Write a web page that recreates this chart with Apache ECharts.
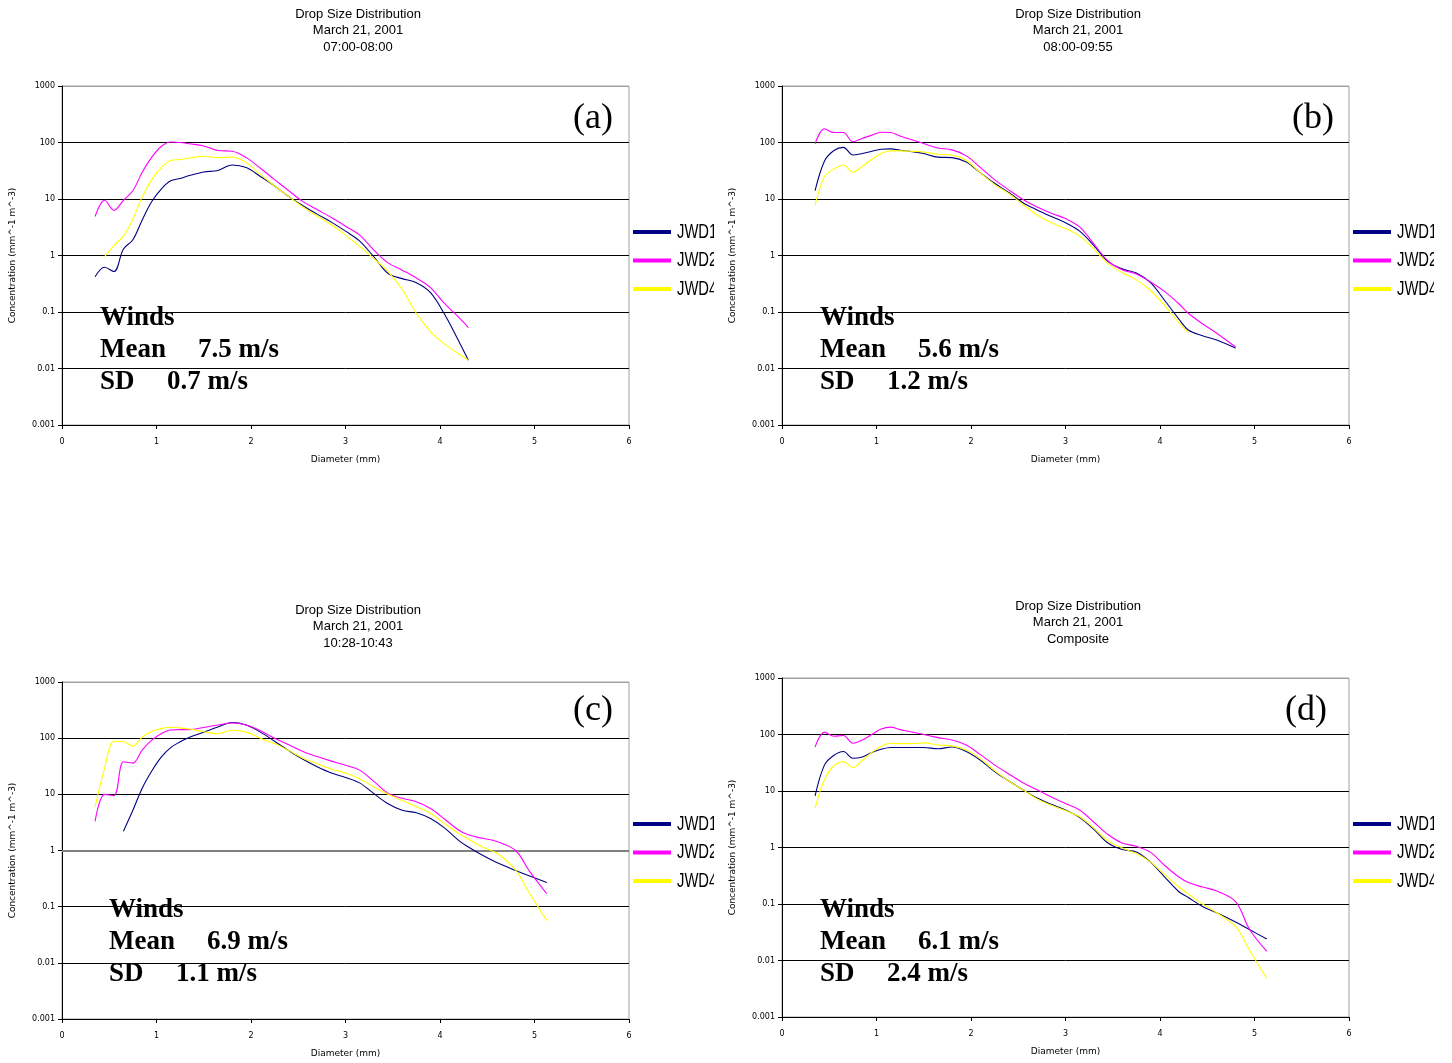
<!DOCTYPE html>
<html>
<head>
<meta charset="utf-8">
<title>Drop Size Distribution - March 21, 2001</title>
<script src="https://cdn.jsdelivr.net/npm/echarts@6/dist/echarts.min.js"></script>
<style>
  html, body { margin: 0; padding: 0; background: #fff; }
  body { width: 1452px; height: 1063px; position: relative; overflow: hidden; }
  .panel { position: absolute; overflow: hidden; }
</style>
</head>
<body>
<div id="panelA" class="panel" style="left:0px;top:0px;width:714px;height:520px"></div>
<div id="panelB" class="panel" style="left:720px;top:0px;width:714px;height:520px"></div>
<div id="panelC" class="panel" style="left:0px;top:596px;width:714px;height:467px"></div>
<div id="panelD" class="panel" style="left:720px;top:592px;width:714px;height:471px"></div>
<script>
// Drop diameter bins (mm) shared by every disdrometer series
const diameters = [0.35, 0.45, 0.55, 0.65, 0.75, 0.85, 0.95, 1.05, 1.15, 1.25, 1.35, 1.5, 1.65, 1.8, 1.95,
  2.1, 2.25, 2.4, 2.55, 2.7, 2.85, 3.0, 3.15, 3.3, 3.45, 3.6, 3.75, 3.9, 4.05, 4.2, 4.3, 4.45, 4.6, 4.8, 4.95, 5.13];

const seriesNames = ['JWD1', 'JWD2', 'JWD4'];
const yTickLabels = ['0.001', '0.01', '0.1', '1', '10', '100', '1000'];
const xTickLabels = ['0', '1', '2', '3', '4', '5', '6'];

// Concentration (mm^-1 m^-3), 07:00-08:00
const a_jwd1 = [0.42, 0.62, 0.52, 1.3, 1.9, 4.3, 9, 15, 21, 23, 26, 30, 32, 40, 36, 25, 17, 11, 7.6, 5.4, 3.9, 2.7, 1.8, 0.95, 0.48, 0.39, 0.33, 0.22, 0.09, 0.03, 0.014, null, null, null, null, null];
const a_jwd2 = [4.9, 9.5, 6.3, 9.5, 14, 30, 55, 85, 102, 100, 95, 87, 72, 70, 54, 35, 22, 14, 9, 6.5, 4.7, 3.3, 2.3, 1.25, 0.74, 0.55, 0.40, 0.27, 0.14, 0.08, 0.053, null, null, null, null, null];
const a_jwd4 = [null, 0.95, 1.5, 2.2, 4.4, 11, 22, 36, 48, 50, 53, 57, 54, 55, 44, 27, 17, 11, 7.2, 5.0, 3.5, 2.3, 1.45, 0.88, 0.52, 0.25, 0.095, 0.045, 0.027, 0.018, 0.014, null, null, null, null, null];

// 08:00-09:55
const b_jwd1 = [14, 47, 72, 82, 60, 64, 70, 76, 77, 73, 70, 64, 55, 54, 45, 29, 19, 13, 8.6, 6.4, 4.9, 3.8, 2.7, 1.5, 0.78, 0.58, 0.49, 0.33, 0.16, 0.075, 0.048, 0.038, 0.032, 0.023, null, null];
const b_jwd2 = [95, 175, 150, 150, 103, 118, 135, 152, 150, 130, 115, 96, 80, 74, 58, 36, 22, 14.5, 9.8, 7.2, 5.6, 4.5, 3.2, 1.6, 0.8, 0.56, 0.47, 0.34, 0.23, 0.14, 0.095, 0.062, 0.042, 0.024, null, null];
const b_jwd4 = [7.8, 25, 34, 40, 30, 38, 50, 64, 71, 71, 70, 68, 62, 60, 48, 29, 18, 12.5, 8.0, 5.2, 3.8, 3.0, 2.2, 1.3, 0.72, 0.50, 0.37, 0.24, 0.13, 0.065, 0.043, null, null, null, null, null];

// 10:28-10:43
const c_jwd1 = [null, null, null, 2.2, 5.2, 13, 26, 46, 68, 86, 104, 128, 158, 190, 172, 128, 88, 60, 42, 31, 24, 20, 16, 10.3, 6.8, 5.2, 4.7, 3.7, 2.5, 1.5, 1.15, 0.82, 0.61, 0.44, 0.35, 0.27];
const c_jwd2 = [3.3, 10, 9.5, 38, 36, 62, 92, 120, 140, 142, 142, 155, 172, 186, 172, 135, 100, 76, 58, 47, 39, 33, 27, 17, 10.5, 8.5, 7.4, 5.6, 3.6, 2.3, 1.9, 1.65, 1.45, 1.0, 0.42, 0.17];
const c_jwd4 = [6, 29, 88, 87, 72, 105, 132, 148, 156, 152, 146, 130, 120, 138, 128, 100, 80, 60, 44, 35, 28, 24, 19, 13.5, 10, 7.8, 6, 4.6, 3, 2.0, 1.6, 1.15, 0.9, 0.45, 0.17, 0.057];

// Composite
const d_jwd1 = [8.2, 29, 43, 50, 38, 40, 48, 55, 59, 59, 59, 59, 56, 60, 50, 35, 22, 15, 10.5, 7.5, 5.8, 4.6, 3.4, 2.1, 1.2, 0.92, 0.83, 0.55, 0.3, 0.165, 0.13, 0.09, 0.07, 0.048, 0.035, 0.024];
const d_jwd2 = [60, 110, 93, 96, 70, 80, 100, 125, 135, 122, 113, 100, 88, 80, 65, 44, 29, 20, 14, 10.5, 7.8, 6.0, 4.6, 2.8, 1.7, 1.2, 1.05, 0.82, 0.48, 0.3, 0.24, 0.2, 0.17, 0.11, 0.035, 0.0145];
const d_jwd4 = [5, 16, 28, 33, 26, 35, 48, 62, 70, 69, 69, 71, 65, 63, 53, 37, 23, 15, 10.5, 7.2, 5.6, 4.5, 3.5, 2.2, 1.3, 0.98, 0.78, 0.55, 0.33, 0.2, 0.15, 0.1, 0.07, 0.04, 0.015, 0.0048];

const seriesColors = ['#000080', '#ff00ff', '#ffff00'];

const panels = [
  { el: 'panelA', period: '07:00-08:00', tag: '(a)', tagX: 593, tagY: 119, data: [a_jwd1, a_jwd2, a_jwd4],
    mean: '7.5 m/s', sd: '0.7 m/s', textX: 100, textY: 318, legendY: 232, oneLineGrey: false },
  { el: 'panelB', period: '08:00-09:55', tag: '(b)', tagX: 593, tagY: 119, data: [b_jwd1, b_jwd2, b_jwd4],
    mean: '5.6 m/s', sd: '1.2 m/s', textX: 100, textY: 318, legendY: 232, oneLineGrey: false },
  { el: 'panelC', period: '10:28-10:43', tag: '(c)', tagX: 593, tagY: 115, data: [c_jwd1, c_jwd2, c_jwd4],
    mean: '6.9 m/s', sd: '1.1 m/s', textX: 109, textY: 314, legendY: 228, oneLineGrey: true },
  { el: 'panelD', period: 'Composite', tag: '(d)', tagX: 586, tagY: 119, data: [d_jwd1, d_jwd2, d_jwd4],
    mean: '6.1 m/s', sd: '2.4 m/s', textX: 100, textY: 318, legendY: 232, oneLineGrey: false }
];

const sansFont = "'DejaVu Sans', Verdana, sans-serif";
const titleFont = "'Liberation Sans', Arial, sans-serif";
const serifFont = "'Liberation Serif', 'Times New Roman', serif";

function pairs(values) {
  const out = [];
  values.forEach((v, i) => { if (v !== null) out.push([diameters[i], v]); });
  return out;
}

// Legend keys: a short thick bar in the series colour followed by a condensed label
function legendGraphics(p) {
  const items = [];
  seriesNames.forEach((name, k) => {
    const cy = p.legendY + 28.5 * k;
    items.push({ type: 'rect', x: 633, y: cy - 2, z: 10,
                 shape: { width: 38, height: 4 }, style: { fill: seriesColors[k] } });
    items.push({ type: 'text', x: 677, y: cy, scaleX: 0.74, z: 10,
                 style: { text: name, fontFamily: titleFont, fontSize: 20, fill: '#000',
                          verticalAlign: 'middle', align: 'left' } });
  });
  return items;
}

function buildPanel(p) {
  const chart = echarts.init(document.getElementById(p.el), null, { renderer: 'canvas' });
  const splitColors = ['#000', '#000', '#000', p.oneLineGrey ? '#808080' : '#000', '#000', '#000', '#a0a0a0'];
  const series = seriesNames.map((name, k) => ({
    name: name,
    type: 'line',
    data: pairs(p.data[k]),
    smooth: 0.35,
    showSymbol: false,
    symbol: 'none',
    lineStyle: { color: seriesColors[k], width: 1.1 },
    itemStyle: { color: seriesColors[k] },
    animation: false,
    z: 3 + k
  }));
  if (p.oneLineGrey) {
    series[0].markLine = {
      silent: true, symbol: 'none', label: { show: false },
      lineStyle: { color: '#808080', width: 2, type: 'solid' },
      data: [{ yAxis: 1 }], z: 2
    };
  }
  const statStyle = { fontFamily: serifFont, fontWeight: 'bold', fontSize: 27, fill: '#000',
                      verticalAlign: 'middle', align: 'left' };
  chart.setOption({
    animation: false,
    backgroundColor: '#fff',
    title: {
      text: 'Drop Size Distribution\nMarch 21, 2001\n' + p.period,
      left: 353, top: 1, textAlign: 'center',
      textStyle: { fontFamily: titleFont, fontSize: 13, fontWeight: 'normal', color: '#000', lineHeight: 16.5 }
    },
    grid: {
      left: 62, top: 86, width: 567, height: 339,
      show: true, borderColor: '#a0a0a0', borderWidth: 1, backgroundColor: '#fff'
    },
    xAxis: {
      type: 'value', min: 0, max: 6, interval: 1,
      name: 'Diameter (mm)', nameLocation: 'middle', nameGap: 30,
      nameTextStyle: { fontFamily: sansFont, fontSize: 9, color: '#000' },
      axisLine: { show: true, lineStyle: { color: '#000', width: 1 } },
      axisTick: { show: true, length: 4, lineStyle: { color: '#000' } },
      axisLabel: { fontFamily: sansFont, fontSize: 8, color: '#000', margin: 13,
                   formatter: v => xTickLabels[Math.round(v)] },
      splitLine: { show: false }
    },
    yAxis: {
      type: 'log', logBase: 10, min: 0.001, max: 1000, splitNumber: 6,
      name: 'Concentration (mm^-1 m^-3)', nameLocation: 'middle', nameGap: 45,
      nameTextStyle: { fontFamily: sansFont, fontSize: 9, color: '#000' },
      axisLine: { show: true, lineStyle: { color: '#000', width: 1 } },
      axisTick: { show: true, length: 4, lineStyle: { color: '#000' } },
      axisLabel: { fontFamily: sansFont, fontSize: 8, color: '#000', margin: 7,
                   formatter: v => yTickLabels[Math.round(Math.log10(v)) + 3] },
      splitLine: { show: true, lineStyle: { color: splitColors, width: 1 } }
    },
    graphic: [
      { type: 'text', x: p.tagX, y: p.tagY, z: 10,
        style: { text: p.tag, fontFamily: serifFont, fontSize: 36, fill: '#000',
                 align: 'center', verticalAlign: 'middle' } },
      { type: 'text', x: p.textX, y: p.textY, z: 10, style: Object.assign({ text: 'Winds' }, statStyle) },
      { type: 'text', x: p.textX, y: p.textY + 32, z: 10, style: Object.assign({ text: 'Mean' }, statStyle) },
      { type: 'text', x: p.textX + 98, y: p.textY + 32, z: 10, style: Object.assign({ text: p.mean }, statStyle) },
      { type: 'text', x: p.textX, y: p.textY + 64, z: 10, style: Object.assign({ text: 'SD' }, statStyle) },
      { type: 'text', x: p.textX + 67, y: p.textY + 64, z: 10, style: Object.assign({ text: p.sd }, statStyle) }
    ].concat(legendGraphics(p)),
    series: series
  });
  return chart;
}

panels.forEach(buildPanel);
</script>
</body>
</html>
